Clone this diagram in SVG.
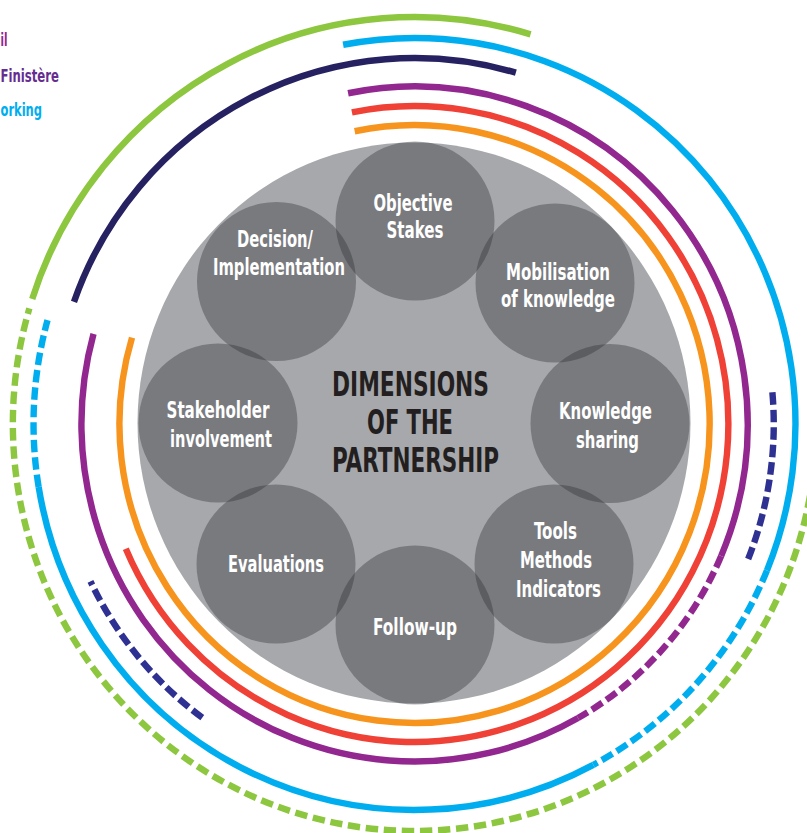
<svg xmlns="http://www.w3.org/2000/svg" width="807" height="833" viewBox="0 0 807 833">
<style>
.arc{fill:none;stroke-width:6.5;stroke-linecap:butt}
.dash{stroke-dasharray:12.5 5}
.green{stroke:#8dc63f}
.blue{stroke:#00aeef}
.navy{stroke:#262262}
.navyd{stroke:#2e3192}
.purple{stroke:#92278f}
.red{stroke:#ef4136}
.orange{stroke:#f7941d}
.node{fill:#2b2b30;fill-opacity:0.37}
.lbl{font-family:'DejaVu Sans Condensed','Liberation Sans Narrow','Roboto',sans-serif;font-weight:bold;font-size:22.5px;fill:#ffffff;text-anchor:middle}
.title{font-family:'DejaVu Sans Condensed','Liberation Sans Narrow','Roboto',sans-serif;font-weight:bold;font-size:34.5px;fill:#231f20}
.leg{font-family:'DejaVu Sans Condensed','Liberation Sans Narrow','Roboto',sans-serif;font-weight:bold;font-size:18.5px}
</style>
<rect width="807" height="833" fill="#ffffff"/>
<g id="legend">
<text class="leg" x="0.5" y="46" fill="#92278f" textLength="7" lengthAdjust="spacingAndGlyphs">il</text>
<text class="leg" x="0.5" y="82" fill="#662d91" textLength="58.5" lengthAdjust="spacingAndGlyphs">Finistère</text>
<text class="leg" x="0.5" y="116" fill="#00aeef" textLength="41.5" lengthAdjust="spacingAndGlyphs">orking</text>
</g>
<g id="connectors" transform="translate(414.5 424) scale(0.987 1)">
<path class="arc orange" d="M -60.6 -292.8 A 299 299 0 1 1 -286.2 -86.4"/>
<path class="arc red" d="M -63.4 -311.6 A 318 318 0 1 1 -292.5 124.8"/>
<path class="arc purple" d="M -67.3 -330.7 A 337.5 337.5 0 0 1 310.7 131.9"/>
<path class="arc purple dash" d="M 310.7 131.9 A 337.5 337.5 0 0 1 165.7 294.0"/>
<path class="arc purple" d="M 165.7 294.0 A 337.5 337.5 0 0 1 -325.2 -90.2"/>
<path class="arc navy" d="M -345.0 -122.2 A 366 366 0 0 1 102.7 -351.3"/>
<path class="arc navyd dash" d="M 362.6 -31.7 A 364 364 0 0 1 336.3 139.3"/>
<path class="arc navyd dash" d="M -215.0 293.7 A 364 364 0 0 1 -328.3 157.3"/>
<path class="arc blue" d="M -72.3 -379.2 A 386 386 0 0 1 357.1 146.5"/>
<path class="arc blue dash" d="M 357.1 146.5 A 386 386 0 0 1 181.2 340.8"/>
<path class="arc blue" d="M 181.2 340.8 A 386 386 0 0 1 -380.8 63.0"/>
<path class="arc blue dash" d="M -380.8 63.0 A 386 386 0 0 1 -371.8 -103.8"/>
<path class="arc green" d="M -387.3 -125.1 A 407 407 0 0 1 117.6 -389.6"/>
<path class="arc green" style="stroke-dasharray:12.5 5.8" d="M 405.5 35.5 A 407 407 0 1 1 -390.2 -115.6"/>
</g>
<ellipse id="base" cx="414" cy="423" rx="276.5" ry="280.5" fill="#a7a8ab"/>
<g id="n-objective"><circle class="node" cx="415" cy="221" r="79.5"/><text class="lbl" x="413" y="211" textLength="79" lengthAdjust="spacingAndGlyphs">Objective</text><text class="lbl" x="415" y="238" textLength="57" lengthAdjust="spacingAndGlyphs">Stakes</text></g>
<g id="n-mobilisation"><circle class="node" cx="555" cy="283" r="79.5"/><text class="lbl" x="558" y="280" textLength="104" lengthAdjust="spacingAndGlyphs">Mobilisation</text><text class="lbl" x="558" y="307" textLength="114" lengthAdjust="spacingAndGlyphs">of knowledge</text></g>
<g id="n-knowledge"><circle class="node" cx="610" cy="423.5" r="79.5"/><text class="lbl" x="605.5" y="419" textLength="93" lengthAdjust="spacingAndGlyphs">Knowledge</text><text class="lbl" x="607.5" y="448" textLength="63" lengthAdjust="spacingAndGlyphs">sharing</text></g>
<g id="n-tools"><circle class="node" cx="554" cy="564" r="79.5"/><text class="lbl" x="555.5" y="539" textLength="43" lengthAdjust="spacingAndGlyphs">Tools</text><text class="lbl" x="556" y="568" textLength="72" lengthAdjust="spacingAndGlyphs">Methods</text><text class="lbl" x="558.5" y="597" textLength="85" lengthAdjust="spacingAndGlyphs">Indicators</text></g>
<g id="n-followup"><circle class="node" cx="415" cy="625" r="79.5"/><text class="lbl" x="415" y="635" textLength="84" lengthAdjust="spacingAndGlyphs">Follow-up</text></g>
<g id="n-evaluations"><circle class="node" cx="276" cy="564" r="79.5"/><text class="lbl" x="276" y="572" textLength="96" lengthAdjust="spacingAndGlyphs">Evaluations</text></g>
<g id="n-stakeholder"><circle class="node" cx="218" cy="423" r="79.5"/><text class="lbl" x="218" y="418" textLength="103" lengthAdjust="spacingAndGlyphs">Stakeholder</text><text class="lbl" x="221" y="447" textLength="102" lengthAdjust="spacingAndGlyphs">involvement</text></g>
<g id="n-decision"><circle class="node" cx="276.5" cy="281.5" r="79.5"/><text class="lbl" x="275" y="247" textLength="76" lengthAdjust="spacingAndGlyphs">Decision/</text><text class="lbl" x="279" y="275" textLength="132" lengthAdjust="spacingAndGlyphs">Implementation</text></g>
<g id="title">
<text class="title" x="332" y="396" textLength="157" lengthAdjust="spacingAndGlyphs">DIMENSIONS</text>
<text class="title" x="367" y="434" textLength="86" lengthAdjust="spacingAndGlyphs">OF THE</text>
<text class="title" x="332" y="472" textLength="167" lengthAdjust="spacingAndGlyphs">PARTNERSHIP</text>
</g>
</svg>
